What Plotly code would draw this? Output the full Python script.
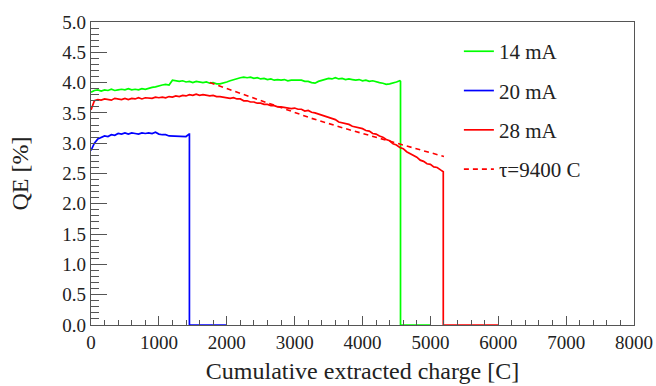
import plotly.graph_objects as go

# ---- data ----
step = 50  # sampling step of the measured curves [C]

green_y = [3.84, 3.87, 3.88, 3.86, 3.88, 3.87, 3.89, 3.87, 3.88, 3.89,
           3.88, 3.90, 3.88, 3.89, 3.88, 3.90, 3.89, 3.91, 3.92, 3.93,
           3.95, 3.96, 3.97, 3.96, 4.04, 4.03, 4.02, 4.03, 4.01, 4.02,
           4.00, 4.02, 4.01, 4.00, 4.01, 3.99, 4.00, 3.98, 3.98, 3.99,
           4.01, 4.03, 4.05, 4.06, 4.08, 4.09, 4.08, 4.09, 4.07, 4.08,
           4.06, 4.07, 4.05, 4.06, 4.04, 4.05, 4.04, 4.05, 4.03, 4.04,
           4.04, 4.03, 4.04, 4.02, 4.02, 4.00, 3.99, 4.02, 4.04, 4.06,
           4.07, 4.06, 4.08, 4.06, 4.07, 4.05, 4.06, 4.05, 4.04, 4.05,
           4.03, 4.04, 4.02, 4.03, 4.01, 4.00, 3.99, 3.97, 3.98, 3.99,
           4.01, 4.03]
green_tail_x = [4560, 4560, 5000]
green_tail_y = [4.02, 0.0, 0.0]

blue_y = [2.88, 3.00, 3.07, 3.09, 3.12, 3.11, 3.14, 3.13, 3.16, 3.15,
          3.17, 3.15, 3.17, 3.16, 3.15, 3.17, 3.16, 3.17, 3.16, 3.18,
          3.15, 3.14, 3.14, 3.12, 3.12, 3.11, 3.11, 3.12, 3.11]
blue_tail_x = [1445, 1450, 1450, 2000]
blue_tail_y = [3.15, 3.15, 0.0, 0.0]

red_y = [3.55, 3.70, 3.72, 3.71, 3.73, 3.72, 3.71, 3.74, 3.73, 3.72,
         3.74, 3.72, 3.74, 3.73, 3.75, 3.73, 3.75, 3.74, 3.74, 3.76,
         3.75, 3.76, 3.75, 3.77, 3.76, 3.78, 3.77, 3.79, 3.78, 3.80,
         3.79, 3.81, 3.79, 3.80, 3.79, 3.78, 3.79, 3.77, 3.77, 3.76,
         3.76, 3.74, 3.75, 3.73, 3.73, 3.70, 3.70, 3.68, 3.68, 3.66,
         3.66, 3.64, 3.64, 3.62, 3.62, 3.60, 3.60, 3.59, 3.59, 3.57,
         3.58, 3.56, 3.56, 3.53, 3.54, 3.51, 3.50, 3.48, 3.47, 3.44,
         3.43, 3.40, 3.39, 3.35, 3.34, 3.32, 3.31, 3.28, 3.27, 3.25,
         3.24, 3.21, 3.20, 3.16, 3.15, 3.12, 3.10, 3.06, 3.04, 2.99,
         2.97, 2.93, 2.91, 2.86, 2.83, 2.79, 2.77, 2.72, 2.70, 2.66,
         2.65, 2.61, 2.60, 2.56]
red_tail_x = [5190, 5190, 5190, 6000]
red_tail_y = [2.53, 2.53, 0.0, 0.0]

fit_x = [1750, 2250, 2750, 3250, 3750, 4250, 4750, 5200]
fit_y = [4.00, 3.80, 3.61, 3.41, 3.24, 3.08, 2.92, 2.78]

x_ticks = [0, 1000, 2000, 3000, 4000, 5000, 6000, 7000, 8000]
y_ticks = [0.0, 0.5, 1.0, 1.5, 2.0, 2.5, 3.0, 3.5, 4.0, 4.5, 5.0]

labels = ["14 mA", "20 mA", "28 mA", "\u03c4=9400 C"]
colors = ["#00ff00", "#0000ff", "#ff0000", "#ff0000"]

FONT = "Liberation Serif"


def grid(n):
    return [i * step for i in range(n)]


fig = go.Figure()
fig.add_trace(go.Scatter(x=grid(len(green_y)) + green_tail_x, y=green_y + green_tail_y,
                         mode="lines", name=labels[0], legendgroup="a",
                         line=dict(color=colors[0], width=1.7)))
fig.add_trace(go.Scatter(x=grid(len(blue_y)) + blue_tail_x, y=blue_y + blue_tail_y,
                         mode="lines", name=labels[1], legendgroup="b",
                         line=dict(color=colors[1], width=1.7)))
fig.add_trace(go.Scatter(x=grid(len(red_y)) + red_tail_x, y=red_y + red_tail_y,
                         mode="lines", name=labels[2], legendgroup="c",
                         line=dict(color=colors[2], width=1.7)))
fig.add_trace(go.Scatter(x=fit_x, y=fit_y, mode="lines", name=labels[3], legendgroup="d",
                         line=dict(color=colors[3], width=1.6, dash="5px,4px")))

axis_common = dict(showgrid=False, zeroline=False, showline=True, linecolor="#555555",
                   linewidth=1.2, mirror=True, ticks="inside", tickcolor="#555555",
                   automargin=False,
                   tickfont=dict(family=FONT, size=19, color="#222222"))

fig.update_xaxes(range=[0, 8000], tickvals=x_ticks, ticklen=9, tickwidth=1.2,
                 minor=dict(ticks="inside", dtick=200, ticklen=5, tickcolor="#555555", tickwidth=1),
                 title=dict(text="Cumulative extracted charge [C]",
                            font=dict(family=FONT, size=24, color="#222222"), standoff=10),
                 **axis_common)
fig.update_yaxes(range=[0, 5], tickvals=y_ticks, tickformat=".1f", ticklen=16, tickwidth=1.2,
                 minor=dict(ticks="inside", dtick=0.1, ticklen=8, tickcolor="#555555", tickwidth=1),
                 title=dict(text="QE [%]", font=dict(family=FONT, size=24, color="#222222"),
                            standoff=26),
                 **axis_common)

fig.update_layout(
    width=656, height=386,
    margin=dict(l=91, r=22, t=22, b=61),
    paper_bgcolor="white", plot_bgcolor="white",
    font=dict(family=FONT, color="#222222"),
    showlegend=True,
    legend=dict(x=0.6775, y=0.97, xanchor="left", yanchor="top",
                bgcolor="rgba(0,0,0,0)", borderwidth=0,
                font=dict(family=FONT, size=21, color="#222222"),
                traceorder="grouped", tracegroupgap=9, itemwidth=30),
)

fig.write_html("out.html",
               config={"displayModeBar": False},
               post_script="document.body.style.margin='0';"
                           "document.documentElement.style.overflow='hidden';")
